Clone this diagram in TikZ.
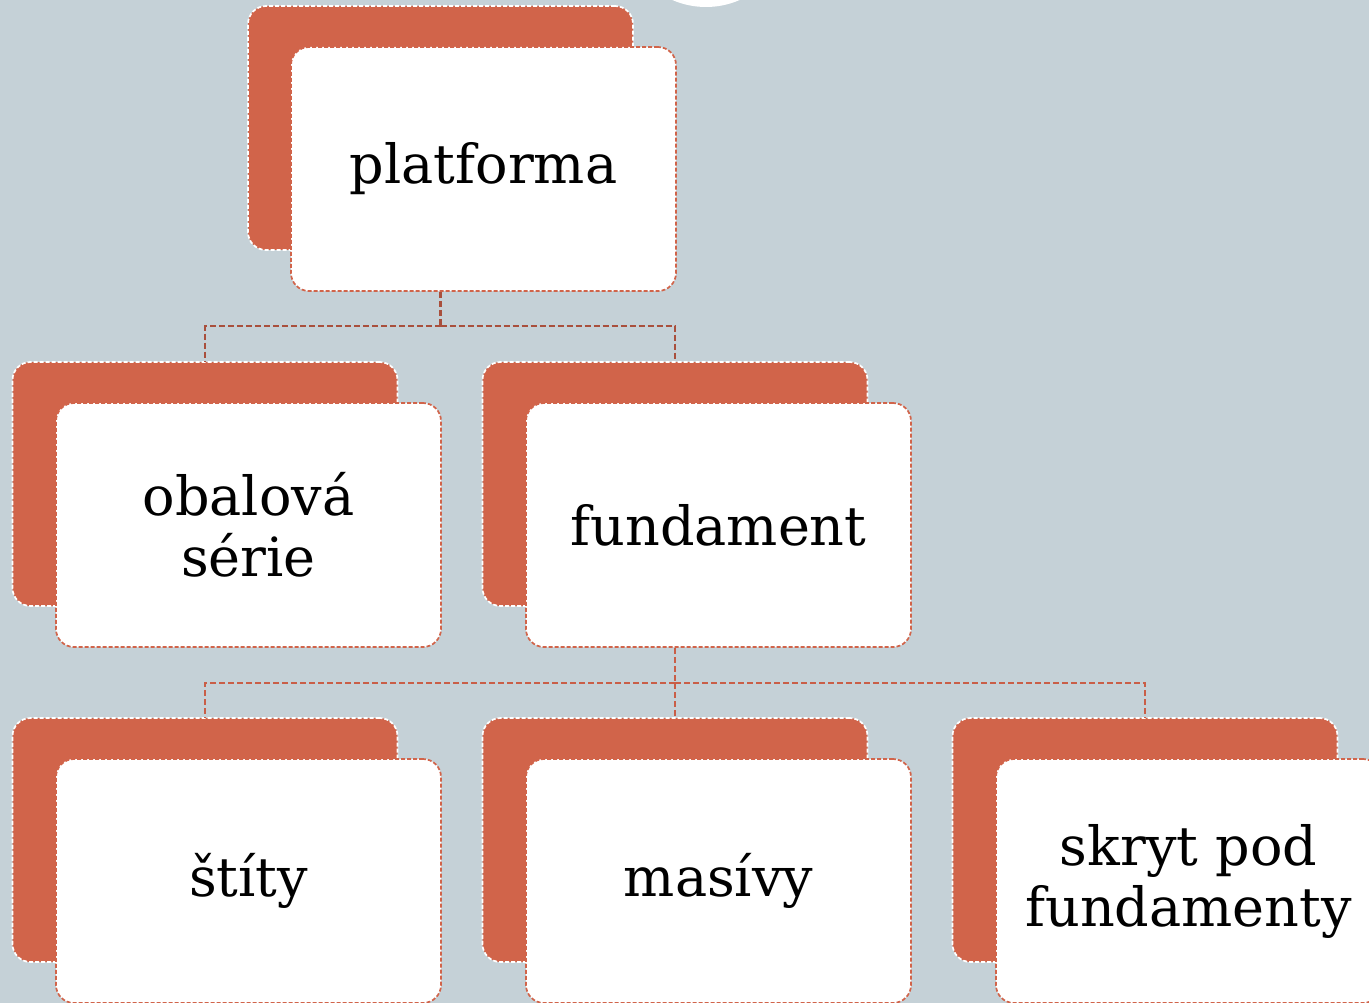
\documentclass[tikz,border=0pt]{standalone}
\usepackage{fontspec}
\setmainfont{DejaVu Serif}
\definecolor{bgc}{HTML}{C5D1D7}
\definecolor{orng}{HTML}{D1644A}
\definecolor{conA}{HTML}{A94F3C}
\definecolor{conB}{HTML}{C95E47}
\tikzset{
  backbox/.style={draw=white, fill=orng, line width=1.7pt, dash pattern=on 4pt off 2pt, rounded corners=18pt, minimum width=385pt, minimum height=244pt, inner sep=0pt},
  frontbox/.style={draw=orng, fill=white, line width=1.7pt, dash pattern=on 4pt off 2pt, rounded corners=18pt, minimum width=385pt, minimum height=244pt, inner sep=0pt, align=center, font=\fontsize{54}{61}\selectfont},
  conn1/.style={draw=conA, line width=2.3pt, dash pattern=on 6pt off 3pt},
  conn2/.style={draw=conB, line width=1.9pt, dash pattern=on 6pt off 3pt},
}
\begin{document}
\begin{tikzpicture}[x=1pt,y=-1pt]
\useasboundingbox (0,0) rectangle (1369,1003);
\clip (0,0) rectangle (1369,1003);
\fill[bgc] (0,0) rectangle (1369,1003);
\fill[white] (706,-77) circle (84);
% back boxes
\node[backbox] (p0b) at (440.5,128) {};
\node[backbox] (a1b) at (205,484) {};
\node[backbox] (a2b) at (675,484) {};
\node[backbox] (c1b) at (205,840) {};
\node[backbox] (c2b) at (675,840) {};
\node[backbox] (c3b) at (1145,840) {};
% front boxes
\node[frontbox] (p0) at (483.5,169) {platforma};
\node[frontbox] (a1) at (248.5,525) {obalová\\série};
\node[frontbox] (a2) at (718.5,525) {fundament};
\node[frontbox] (c1) at (248.5,881) {štíty};
\node[frontbox] (c2) at (718.5,881) {masívy};
\node[frontbox] (c3) at (1188.5,881) {skryt pod\\fundamenty};
% connectors
\draw[conn1] (p0b.south |- p0.south) -- (p0b.south |- 0,326) coordinate (j0);
\draw[conn1] (j0) -| (a1b.north);
\draw[conn1] (j0) -| (a2b.north);
\draw[conn2] (a2b.south |- a2.south) -- (a2b.south |- 0,683) coordinate (j1);
\draw[conn2] (j1) -| (c1b.north);
\draw[conn2] (j1) -- (c2b.north);
\draw[conn2] (j1) -| (c3b.north);
\end{tikzpicture}
\end{document}
